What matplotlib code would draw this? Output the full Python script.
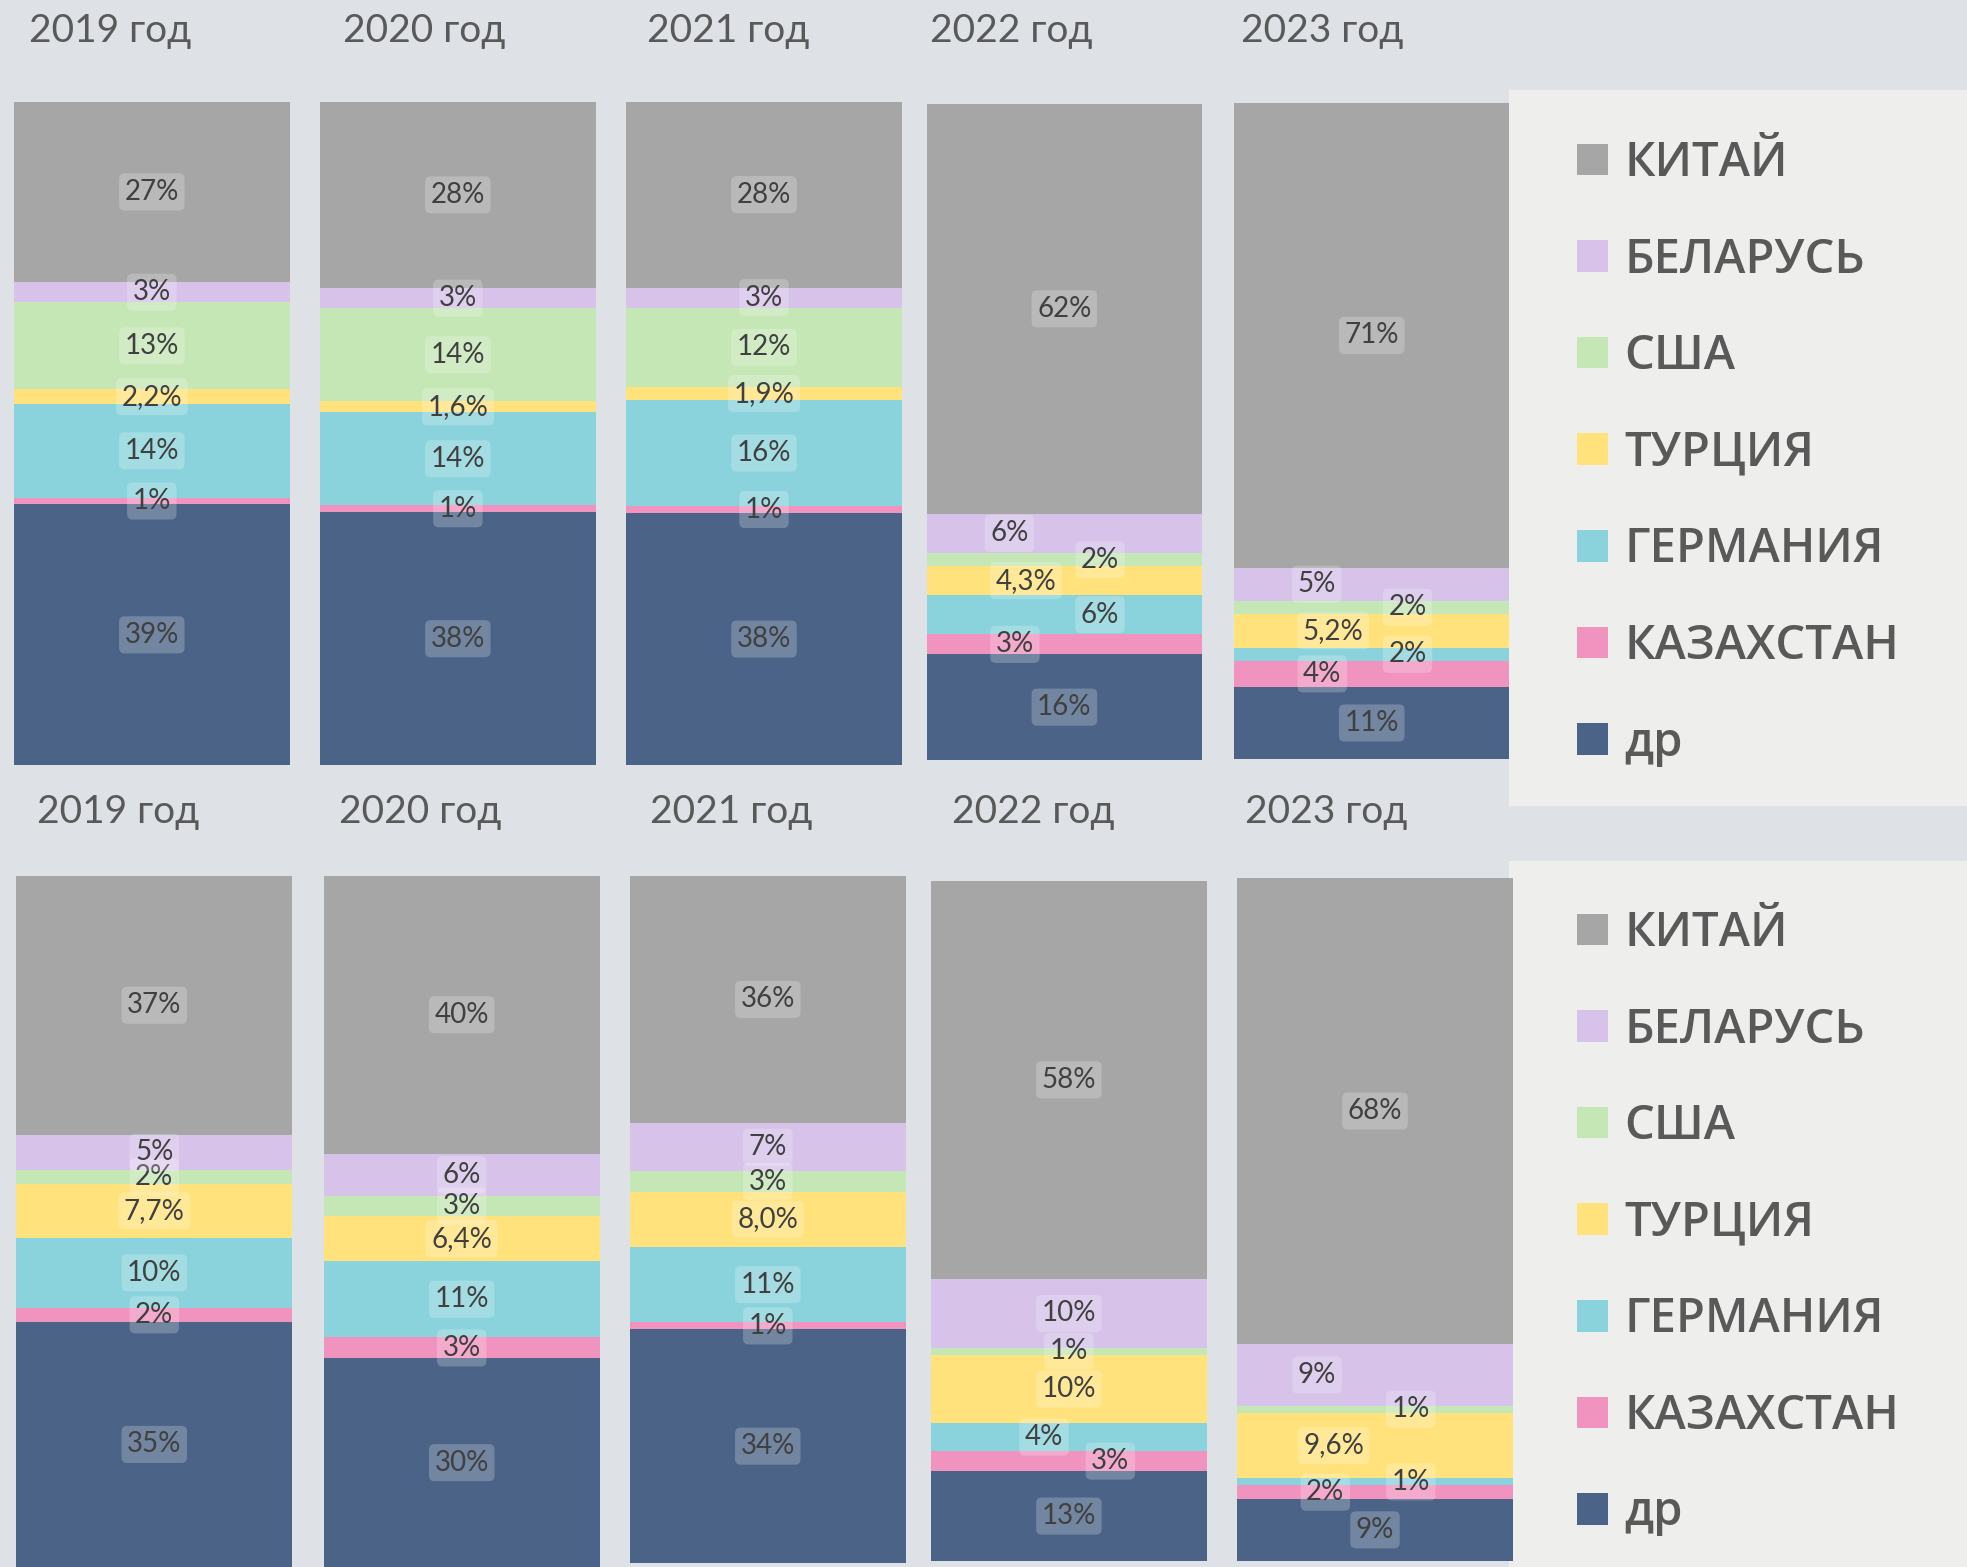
import matplotlib
matplotlib.use("Agg")
import matplotlib.pyplot as plt
from matplotlib.patches import Patch, Rectangle
from matplotlib.font_manager import FontProperties

# %% DATA (shares in %, stack order from bottom to top)
years = ['2019 год', '2020 год', '2021 год', '2022 год', '2023 год']
series = ['др', 'КАЗАХСТАН', 'ГЕРМАНИЯ', 'ТУРЦИЯ', 'США', 'БЕЛАРУСЬ', 'КИТАЙ']
legend_order = ['КИТАЙ', 'БЕЛАРУСЬ', 'США', 'ТУРЦИЯ', 'ГЕРМАНИЯ', 'КАЗАХСТАН', 'др']

top_other = [39, 38, 38, 16, 11]
top_kazakh = [1, 1, 1, 3, 4]
top_germany = [14, 14, 16, 6, 2]
top_turkey = [2.2, 1.6, 1.9, 4.3, 5.2]
top_usa = [13, 14, 12, 2, 2]
top_belarus = [3, 3, 3, 6, 5]
top_china = [27, 28, 28, 62, 71]

bot_other = [35, 30, 34, 13, 9]
bot_kazakh = [2, 3, 1, 3, 2]
bot_germany = [10, 11, 11, 4, 1]
bot_turkey = [7.7, 6.4, 8.0, 10, 9.6]
bot_usa = [2, 3, 3, 1, 1]
bot_belarus = [5, 6, 7, 10, 9]
bot_china = [37, 40, 36, 58, 68]

# %% STYLE / LAYOUT
colors = {'др': '#4b6387', 'КАЗАХСТАН': '#f193bf', 'ГЕРМАНИЯ': '#8ad3dc',
          'ТУРЦИЯ': '#ffe27c', 'США': '#c5e7b5', 'БЕЛАРУСЬ': '#d7c2ea',
          'КИТАЙ': '#a6a6a6'}
bg = '#dee1e5'
W, H = 1967, 1567

panels = [
    dict(data=[top_other, top_kazakh, top_germany, top_turkey, top_usa, top_belarus, top_china],
         bars=[(13.8, 101.6, 289.8, 765.3), (319.9, 101.6, 595.9, 765.3), (626, 101.6, 902, 765.3),
               (927, 104, 1201.8, 760), (1234.4, 103, 1509.1, 759)],
         titles=[(110, 31), (424, 31), (728, 31), (1011, 31), (1322, 31)],
         offsets=[[0] * 7, [0] * 7, [0] * 7,
                  [0, -0.18, 0.13, -0.14, 0.13, -0.20, 0],
                  [0, -0.18, 0.13, -0.14, 0.13, -0.20, 0]],
         box=(1509, 90, 1967, 805.5), leg_top=140),
    dict(data=[bot_other, bot_kazakh, bot_germany, bot_turkey, bot_usa, bot_belarus, bot_china],
         bars=[(16.3, 875.7, 292.3, 1567), (323.7, 875.7, 599.7, 1567), (629.8, 875.7, 905.8, 1563),
               (930.9, 880.7, 1206.9, 1560.7), (1237, 878, 1513, 1560.7)],
         titles=[(118, 812), (420, 812), (731, 812), (1033, 812), (1326, 812)],
         offsets=[[0] * 7, [0] * 7, [0] * 7,
                  [0, 0.15, -0.09, 0, 0, 0, 0],
                  [0, -0.18, 0.13, -0.15, 0.13, -0.21, 0]],
         box=(1509, 860.7, 1967, 1567), leg_top=910),
]


def fmt(name, v):
    if name == 'ТУРЦИЯ' and v < 10:
        return f'{v:.1f}%'.replace('.', ',')
    return f'{v:.0f}%'


fig = plt.figure(figsize=(W / 100, H / 100), dpi=100, facecolor=bg)
leg_font = FontProperties(family='Open Sans', weight='semibold', size=34)

for p in panels:
    for i, (x0, y0, x1, y1) in enumerate(p['bars']):
        ax = fig.add_axes([x0 / W, 1 - y1 / H, (x1 - x0) / W, (y1 - y0) / H])
        vals = [s[i] for s in p['data']]
        total = sum(vals)
        bottom = 0
        for k, name in enumerate(series):
            v = vals[k]
            ax.bar(0, v, bottom=bottom, width=1, color=colors[name], linewidth=0)
            ax.text(p['offsets'][i][k], bottom + v / 2, fmt(name, v), ha='center', va='center',
                    fontsize=20, family='Lato', color='#404040',
                    bbox=dict(boxstyle='round,pad=0.2', facecolor='white', alpha=0.22, edgecolor='none'))
            bottom += v
        ax.set_xlim(-0.5, 0.5)
        ax.set_ylim(0, total)
        ax.axis('off')
    for t, (tx, ty) in zip(years, p['titles']):
        fig.text(tx / W, 1 - ty / H, t, ha='center', va='center', fontsize=28,
                 family='Lato', color='#595959')
    bx0, by0, bx1, by1 = p['box']
    fig.patches.append(Rectangle((bx0 / W, 1 - by1 / H), (bx1 - bx0) / W, (by1 - by0) / H,
                                 transform=fig.transFigure, facecolor='#eeeeec',
                                 edgecolor='none', zorder=-1))
    handles = [Patch(facecolor=colors[n], edgecolor='none', label=n) for n in legend_order]
    fig.legend(handles=handles, loc='upper left', bbox_to_anchor=(1577 / W, 1 - p['leg_top'] / H),
               frameon=False, prop=leg_font, labelcolor='#595959', labelspacing=1.05,
               handlelength=0.65, handleheight=0.65, handletextpad=0.35, borderpad=0,
               borderaxespad=0)

fig.savefig('out.png', dpi=100, facecolor=bg)
